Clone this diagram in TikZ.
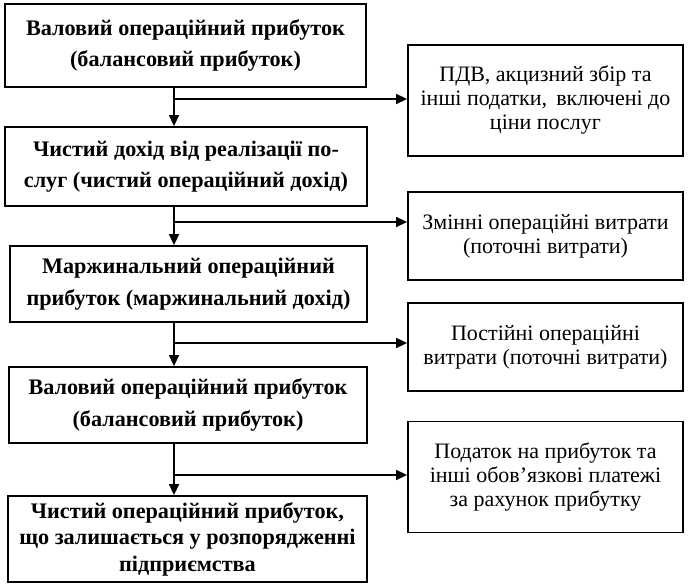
\documentclass[tikz,border=0pt]{standalone}
\usepackage{fontspec}
\setmainfont{Liberation Serif}
\usetikzlibrary{arrows.meta}
\tikzset{
  lbox/.style={draw, line width=1.8pt, align=center, inner sep=0pt,
    font=\bfseries\fontsize{22.2}{31.5}\selectfont},
  rbox/.style={draw, line width=1.8pt, align=center, inner sep=0pt,
    font=\fontsize{22}{24}\selectfont},
  arr/.style={line width=1.6pt, -{Triangle[length=11pt,width=10pt]}}
}
\begin{document}
\begin{tikzpicture}[x=1pt,y=-1pt]
\useasboundingbox (0,0) rectangle (688,585);
% left boxes
\node[lbox, minimum width=361pt, minimum height=83pt] (b1) at (185.5,45.5)
  {Валовий операційний прибуток\\(балансовий прибуток)};
\node[lbox, minimum width=362pt, minimum height=79pt] (b2) at (186,166.5)
  {Чистий дохід від реалізації по-\\слуг (чистий операційний дохід)};
\node[lbox, minimum width=357pt, minimum height=76pt] (b3) at (188.5,284)
  {Маржинальний операційний\\прибуток (маржинальний дохід)};
\node[lbox, minimum width=358pt, minimum height=76pt] (b4) at (188,405)
  {Валовий операційний прибуток\\(балансовий прибуток)};
\node[lbox, minimum width=359pt, minimum height=86pt,
  font=\bfseries\fontsize{22.2}{26.5}\selectfont] (b5) at (187.5,539)
  {Чистий операційний прибуток,\\що залишається у розпорядженні\\підприємства};
% right boxes
\node[rbox, minimum width=275pt, minimum height=111pt] (r1) at (545.5,100.5)
  {ПДВ, акцизний збір та\\інші податки,\, включені до\\ціни послуг};
\node[rbox, minimum width=275pt, minimum height=88pt] (r2) at (545.5,236)
  {Змінні операційні витрати\\(поточні витрати)};
\node[rbox, minimum width=275pt, minimum height=88pt] (r3) at (545.5,347)
  {Постійні операційні\\витрати (поточні витрати)};
\node[rbox, minimum width=275pt, minimum height=111pt] (r4) at (545.5,477)
  {Податок на прибуток та\\інші обов’язкові платежі\\за рахунок прибутку};
% junctions
\coordinate (j1) at (174,99);
\coordinate (j2) at (174,222);
\coordinate (j3) at (174,343);
\coordinate (j4) at (174,475);
% connectors
\draw[arr] (j1 |- b1.south) -- (j1 |- b2.north);
\draw[arr] (j1) -- (j1 -| r1.west);
\draw[arr] (j2 |- b2.south) -- (j2 |- b3.north);
\draw[arr] (j2) -- (j2 -| r2.west);
\draw[arr] (j3 |- b3.south) -- (j3 |- b4.north);
\draw[arr] (j3) -- (j3 -| r3.west);
\draw[arr] (j4 |- b4.south) -- (j4 |- b5.north);
\draw[arr] (j4) -- (j4 -| r4.west);
\end{tikzpicture}
\end{document}
